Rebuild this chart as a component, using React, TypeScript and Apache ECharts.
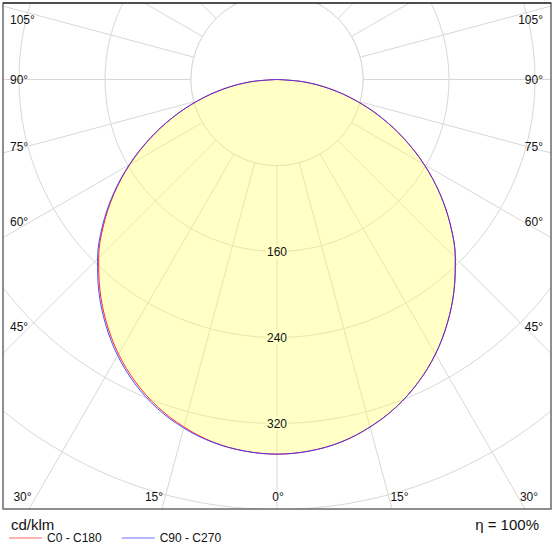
import { useEffect, useRef } from "react";
import * as echarts from "echarts";

// photometric polar diagram, cd/klm, gamma angles 0..90 (0 = straight down)
const ANGLES = [0, 5, 10, 15, 20, 25, 30, 35, 40, 45, 50, 55, 60, 65, 70, 75, 80, 85, 90];
const C0 = [348.5, 346.9, 342.5, 334.6, 324.2, 310.8, 294.9, 276.4, 256.2, 234.6, 210.6, 184.9, 158, 130.5, 103.1, 76.2, 50.2, 24.9, 0];
const C180 = [348.5, 346.9, 342.5, 334.6, 324.2, 310.8, 294.9, 276.4, 256.2, 234.6, 210.6, 184.9, 158, 130.5, 103.1, 76.2, 50.2, 24.9, 0];
const C90 = [348.5, 346.9, 342.5, 334.6, 324.2, 310.8, 294.9, 276.4, 256.2, 234.6, 210.6, 184.9, 158, 130.5, 103.1, 76.2, 50.2, 24.9, 0];
const C270 = [348.5, 346.9, 342.8, 335.6, 325.6, 312.4, 296.5, 278, 257.8, 236.1, 212, 186, 158.8, 131, 103.4, 76.3, 50.2, 24.9, 0];

const RING_LABELS = [160, 240, 320];
const SIDE_LABELS = ["105°", "90°", "75°", "60°", "45°"];
const SIDE_Y = [20, 79.5, 146.5, 221.5, 326.5];
const BOTTOM_LABELS = ["30°", "15°", "0°", "15°", "30°"];
const BOTTOM_X = [22.5, 154, 278, 399.5, 529];

const FONT = 'Arial, "Liberation Sans", sans-serif';
const GRID = "#d8d8d8";

// right half (C0 / C90) runs 360-g, left half (C180 / C270) runs g
function plane(right: number[], left: number[]) {
  const pts: number[][] = [];
  for (let i = ANGLES.length - 1; i >= 0; i--) pts.push([right[i], 360 - ANGLES[i]]);
  for (let i = 1; i < ANGLES.length; i++) pts.push([left[i], ANGLES[i]]);
  return pts;
}

function txt(text: string, x: number, y: number, align: string, size = 12, extra: any = {}) {
  return {
    type: "text",
    x,
    y,
    z: 55,
    silent: true,
    style: {
      text,
      fill: "#111",
      font: `${size}px ${FONT}`,
      align,
      textAlign: align,
      verticalAlign: "middle",
      textVerticalAlign: "middle",
      ...extra,
    },
  };
}

function baseOption(): any {
  return {
    animation: false,
    backgroundColor: "#fff",
    polar: { center: [277, 79.5], radius: [0, 516] },
    angleAxis: {
      type: "value",
      min: 0,
      max: 360,
      interval: 15,
      startAngle: 270,
      clockwise: true,
      z: 0,
      axisLine: { show: false },
      axisTick: { show: false },
      axisLabel: { show: false },
      splitLine: { show: true, lineStyle: { color: GRID, width: 1 } },
    },
    radiusAxis: {
      type: "value",
      min: 0,
      max: 480,
      interval: 80,
      z: 0,
      axisLine: { show: false },
      axisTick: { show: false },
      axisLabel: { show: false },
      splitLine: { show: true, lineStyle: { color: GRID, width: 1 } },
    },
    legend: {
      left: 9,
      top: 532,
      padding: 0,
      icon: "rect",
      itemWidth: 33,
      itemHeight: 1,
      itemGap: 20,
      z: 60,
      textStyle: { fontSize: 12, color: "#111", fontFamily: FONT },
      data: ["C0 - C180", "C90 - C270"],
    },
    series: [
      {
        type: "line",
        name: "C0 - C180",
        coordinateSystem: "polar",
        data: plane(C0, C180),
        symbol: "none",
        smooth: 0.35,
        clip: false,
        z: 2,
        lineStyle: { color: "#ff2a2a", width: 1 },
        itemStyle: { color: "#ff6a6a" },
        areaStyle: { color: "#ffff60", opacity: 0.36, origin: 0 },
      },
      {
        type: "line",
        name: "C90 - C270",
        coordinateSystem: "polar",
        data: plane(C90, C270),
        symbol: "none",
        smooth: 0.35,
        clip: false,
        z: 3,
        lineStyle: { color: "#3030ff", width: 1, opacity: 0.85 },
        itemStyle: { color: "#6a6aff" },
      },
    ],
  };
}

export default function App() {
  const ref = useRef<HTMLDivElement | null>(null);

  useEffect(() => {
    if (!ref.current) return;
    const chart = echarts.init(ref.current, undefined, { renderer: "svg" });
    chart.setOption(baseOption());

    const px = (v: number, a: number) => chart.convertToPixel({ polarIndex: 0 } as any, [v, a]) as number[];
    const mask = (x: number, y: number, width: number, height: number) => ({
      type: "rect",
      z: 50,
      silent: true,
      shape: { x, y, width, height },
      style: { fill: "#fff" },
    });

    const c = px(0, 0);
    const inner = px(80, 0);
    const ringTexts = RING_LABELS.map((v) => {
      const p = px(v, 0);
      return txt(String(v), p[0], p[1], "center", 12, { backgroundColor: "#ffffc8", padding: [1, 1] });
    });

    chart.setOption({
      graphic: [
        // no rays inside the first ring
        {
          type: "circle",
          z: 1,
          silent: true,
          shape: { cx: c[0], cy: c[1], r: inner[1] - c[1] },
          style: { fill: "#fff", stroke: GRID, lineWidth: 1 },
        },
        mask(0, 0, 555, 3),
        mask(0, 0, 3, 556),
        mask(551, 0, 4, 556),
        mask(0, 509, 555, 47),
        {
          type: "rect",
          z: 51,
          silent: true,
          shape: { x: 3, y: 3, width: 548, height: 506 },
          style: { fill: "none", stroke: "#6a6a6a", lineWidth: 1.5 },
        },
        {
          type: "line",
          z: 52,
          silent: true,
          shape: { x1: 3, y1: 3, x2: 551, y2: 3 },
          style: { stroke: "#111", lineWidth: 1.2 },
        },
        ...SIDE_LABELS.map((s, i) => txt(s, 10, SIDE_Y[i], "left")),
        ...SIDE_LABELS.map((s, i) => txt(s, 543, SIDE_Y[i], "right")),
        ...BOTTOM_LABELS.map((s, i) => txt(s, BOTTOM_X[i], 496.5, "center")),
        ...ringTexts,
        txt("cd/klm", 11, 524, "left", 15),
        txt("η = 100%", 539, 524, "right", 15),
      ],
    });

    return () => chart.dispose();
  }, []);

  return <div ref={ref} style={{ position: "absolute", left: 0, top: 0, width: 555, height: 556 }} />;
}
